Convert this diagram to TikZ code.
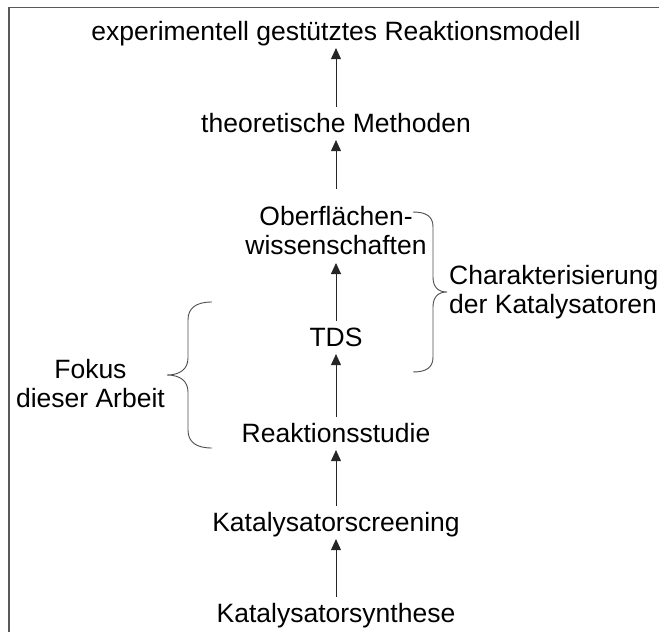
\documentclass[tikz,border=0pt]{standalone}
\usepackage{fontspec}
\setmainfont{Liberation Sans}
\usetikzlibrary{arrows.meta}

\begin{document}
\begin{tikzpicture}[x=1pt, y=-1pt,
    stufe/.style={font=\fontsize{26.5}{29}\selectfont, align=center, inner sep=5.4pt, text depth=0.25em},
    einzeilig/.style={stufe, text height=0.75em},
    pfeil/.style={-{Triangle[length=11pt, width=10pt]}, line width=0.9pt, black!85, shorten <=12pt},
    klammer/.style={line width=0.9pt, black!70},
    notiz/.style={font=\fontsize{26.5}{29}\selectfont, align=center, inner sep=0pt}]
    % Canvas in pixel units
    \useasboundingbox (0,0) rectangle (659,632);
    \draw[line width=1.6pt, black!65] (9,632) -- (9,7.5) -- (659,7.5); % cropped frame

    % Chain of steps, bottom to top
    \node[einzeilig, anchor=base] (modell) at (336,40) {experimentell gestütztes Reaktionsmodell};
    \node[einzeilig, anchor=base] (theorie) at (336,132) {theoretische Methoden};
    \node[stufe, anchor=south] (oberfl) at (336,263) {Oberflächen-\\wissenschaften};
    \node[einzeilig, anchor=base] (tds) at (336,346) {TDS};
    \node[einzeilig, anchor=base] (studie) at (336,442) {Reaktionsstudie};
    \node[einzeilig, anchor=base] (screen) at (336,531) {Katalysatorscreening};
    \node[einzeilig, anchor=base] (synth) at (336,622) {Katalysatorsynthese};

    \draw[pfeil] (synth) -- (screen);
    \draw[pfeil] (screen) -- (studie);
    \draw[pfeil] (studie) -- (tds);
    \draw[pfeil] (tds) -- (oberfl);
    \draw[pfeil] (oberfl) -- (theorie);
    \draw[pfeil] (theorie) -- (modell);

    % Braces with their notes
    \draw[klammer] (212,302) .. controls (196,302) and (188,308) .. (188,320) -- (188,358)
        .. controls (188,369) and (180,375) .. (167,375) .. controls (180,375) and (188,381) .. (188,392)
        -- (188,430) .. controls (188,442) and (196,448) .. (212,448);
    \node[notiz, anchor=east] (fokus) at (165,384) {Fokus\\dieser Arbeit};
    \draw[klammer] (413,212) .. controls (427,212) and (433,217) .. (433,227) -- (433,277)
        .. controls (433,287) and (438,292) .. (447,292) .. controls (438,292) and (433,297) .. (433,307)
        -- (433,357) .. controls (433,367) and (427,372) .. (413,372);
    \node[notiz, anchor=west, align=left] (charak) at (449,292) {Charakterisierung\\der Katalysatoren};
\end{tikzpicture}
\end{document}
